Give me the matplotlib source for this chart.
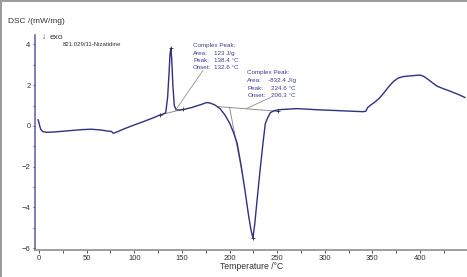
import matplotlib
matplotlib.use("Agg")
from matplotlib import pyplot as plt
from matplotlib.lines import Line2D
from matplotlib.ticker import MultipleLocator

plt.rcParams['font.family'] = ['Liberation Sans', 'DejaVu Sans']

# DSC trace
temperature = [-1, 0, 1, 2, 4, 8, 15, 25, 35, 45, 55, 65, 72, 76, 78, 80, 84, 90,
               100, 110, 120, 126, 130, 133, 135, 136.5, 137.5, 138.4, 139.3, 140.5,
               142, 144, 147, 151, 160, 170, 176, 180, 185, 190, 195, 200, 204, 208,
               212, 216, 220, 222.5, 224.6, 226.5, 229, 232, 235, 237.5, 240, 243,
               247, 252, 260, 270, 280, 290, 300, 310, 320, 330, 340, 343, 345, 348,
               352, 357, 362, 367, 372, 377, 382, 388, 395, 400, 404, 408, 413, 418,
               425, 432, 440, 447]
dsc = [0.30, 0.15, -0.05, -0.18, -0.28, -0.31, -0.30, -0.26, -0.22, -0.18, -0.16,
       -0.20, -0.25, -0.27, -0.36, -0.33, -0.25, -0.13, 0.05, 0.22, 0.40, 0.52, 0.58,
       0.65, 1.4, 2.6, 3.5, 3.82, 3.3, 2.0, 1.0, 0.80, 0.78, 0.80, 0.90, 1.05, 1.15,
       1.12, 1.02, 0.85, 0.55, 0.15, -0.3, -0.85, -1.9, -3.1, -4.4, -5.1, -5.5, -4.8,
       -3.6, -2.2, -0.9, 0.1, 0.40, 0.66, 0.75, 0.80, 0.82, 0.85, 0.83, 0.80, 0.78,
       0.76, 0.74, 0.72, 0.70, 0.72, 0.90, 1.02, 1.15, 1.35, 1.62, 1.92, 2.18, 2.35,
       2.42, 2.45, 2.48, 2.50, 2.43, 2.30, 2.12, 1.95, 1.82, 1.70, 1.55, 1.40]

# evaluation lines (baselines and onset tangent)
base1_t = [127, 151]
base1_y = [0.54, 0.82]
base2_t = [188, 251]
base2_y = [0.95, 0.72]
tangent_t = [200, 213]
tangent_y = [0.92, -2.25]

# "+" marks of the peak evaluations
mark_t = [127, 138.4, 151, 224.6, 251]
mark_y = [0.54, 3.82, 0.82, -5.5, 0.72]

peak1_labels = ["Area:", "Peak:", "Onset:"]
peak1_values = ["123 J/g", "138.4 °C", "132.6 °C"]
peak2_labels = ["Area:", "Peak:", "Onset:"]
peak2_values = ["-832.4 J/g", "224.6 °C", "206.3 °C"]

navy = '#2e3184'
grey = '#8f8f8f'
txt = '#3a3f8f'

fig = plt.figure(figsize=(4.67, 2.77), dpi=100)
ax = fig.add_axes([0.075, 0.0975, 0.925, 0.7765])

ax.plot(base1_t, base1_y, color=grey, lw=0.7)
ax.plot(base2_t, base2_y, color=grey, lw=0.7)
ax.plot(tangent_t, tangent_y, color=grey, lw=0.7)
ax.plot(temperature, dsc, color=navy, lw=1.0)
ax.plot(mark_t, mark_y, ls='none', marker='+', ms=3, mew=0.6, color='#333333')

# annotation leader lines
ax.plot([172, 143], [2.72, 0.75], color=grey, lw=0.6)
ax.plot([243, 218], [1.40, 0.86], color=grey, lw=0.6)

fs = 4.5
ax.text(161.7, 3.93, "Complex Peak:", fontsize=fs, color=txt, va='center')
for i in range(3):
    yy = 3.54 - i * 0.34
    ax.text(161.7, yy, peak1_labels[i], fontsize=fs, color=txt, va='center')
    ax.text(183.7, yy, peak1_values[i], fontsize=fs, color=txt, va='center')

ax.text(218.7, 2.60, "Complex Peak:", fontsize=fs, color=txt, va='center')
for i in range(3):
    yy = 2.21 - i * 0.36
    ax.text(218.7, yy, peak2_labels[i], fontsize=fs, color=txt, va='center')
    ax.text(240.7 if i == 0 else 243.6, yy, peak2_values[i], fontsize=fs,
            color=txt, va='center')

ax.text(3.1, 4.32, "↓", fontsize=6, color='#333333', va='center')
ax.text(11.5, 4.32, "exo", fontsize=6, color='#333333', va='center')
ax.text(25.2, 4.02, "821.029/11-Nizatidine", fontsize=4.3, color='#333333',
        va='center')

ax.set_xlim(-4.2, 449.3)
ax.set_ylim(-6.09, 4.47)
ax.xaxis.set_major_locator(MultipleLocator(50))
ax.xaxis.set_minor_locator(MultipleLocator(25))
ax.yaxis.set_major_locator(MultipleLocator(2))
ax.yaxis.set_minor_locator(MultipleLocator(1))
ax.set_xticks([0, 50, 100, 150, 200, 250, 300, 350, 400])
ax.tick_params(axis='both', which='both', labelsize=5.5, colors='#333333',
               length=1.8, width=0.6, pad=1.5)

for side in ['top', 'right']:
    ax.spines[side].set_visible(False)
ax.spines['left'].set_color('#5a5ca6')
ax.spines['left'].set_linewidth(1.1)
ax.spines['bottom'].set_color(grey)
ax.spines['bottom'].set_linewidth(1.2)

fig.text(0.017, 0.924, "DSC /(mW/mg)", fontsize=6, color='#333333', va='center')
fig.text(0.539, 0.037, "Temperature /°C", fontsize=6.2, color='#333333',
         va='center', ha='center')

# grey frame of the original screenshot
fig.add_artist(Line2D([0.002, 0.002], [0, 1], transform=fig.transFigure,
                      color='#9a9a9a', lw=1.4))
fig.add_artist(Line2D([0, 1], [0.997, 0.997], transform=fig.transFigure,
                      color='#9a9a9a', lw=1.4))

fig.savefig('out.png', dpi=100)
